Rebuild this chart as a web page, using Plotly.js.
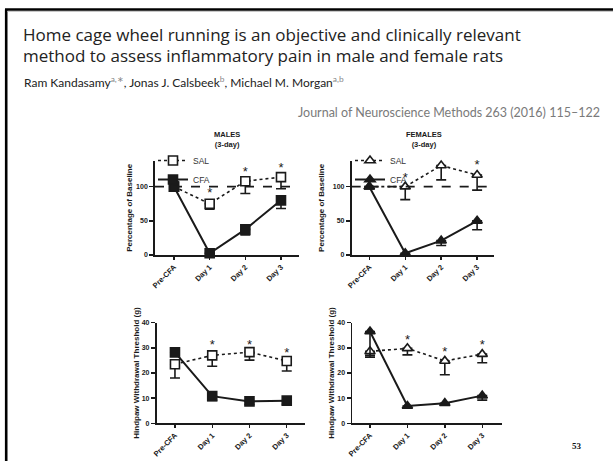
<!DOCTYPE html>
<html><head><meta charset="utf-8">
<script src="https://cdn.plot.ly/plotly-3.0.1.min.js"></script>
<style>html,body{margin:0;padding:0;background:#fff}#chart{width:613px;height:461px}</style>
</head><body><div id="chart"></div>
<script>
// ---------- data ----------
const cats = ['Pre-CFA', 'Day 1', 'Day 2', 'Day 3'];
const starCats = ['Day 1', 'Day 2', 'Day 3'];
const baseline = [100];

// % of baseline (wheel running)
const maleSalPct = [100, 75, 108, 114];
const maleSalPctErr = [0, 8, 18, 17];
const maleCfaPct = [100, 2.5, 37.5, 80];
const maleCfaPctErr = [0, 0, 8, 12];
const femSalPct = [100, 100, 131, 117];
const femSalPctErr = [0, 19, 21, 22];
const femCfaPct = [100, 2.5, 21, 50];
const femCfaPctErr = [0, 0, 7, 13];

// hindpaw withdrawal threshold (g)
const maleSalThr = [23.5, 27, 28.3, 24.8];
const maleSalThrErr = [5.5, 4.3, 3.2, 4];
const maleCfaThr = [28.2, 10.8, 8.7, 9];
const maleCfaThrErr = [0, 1.7, 1.2, 1.4];
const femSalThr = [28.6, 29.8, 24.8, 27.5];
const femSalThrErr = [2.3, 2.6, 5.5, 3.4];
const femCfaThr = [36.5, 6.9, 8, 11];
const femCfaThrErr = [9.5, 0, 0.5, 1.8];

// significance markers (y of the asterisk)
const maleStarPct = [89, 121, 126];
const femStarPct = [111, 143, 130];
const maleStarThr = [31, 31, 27.8];
const femStarThr = [33, 28.2, 30.8];

const yTicksPct = [0, 50, 100];
const yTicksThr = [0, 10, 20, 30, 40];

// ---------- styling helpers ----------
const W = 613, H = 461;
const px = v => v / W;
const py = v => 1 - v / H;
const INK = '#1a1a1a';
const gfont = (s) => ({family: 'Liberation Sans, Arial, sans-serif', size: s, color: INK, weight: 'bold'});

function series(x, y, err, xa, ya, name, symbol, filled, dash, legend, showlegend) {
  return {
    type: 'scatter', mode: 'lines+markers', x: x, y: y, name: name,
    xaxis: xa, yaxis: ya, legend: legend, showlegend: showlegend,
    cliponaxis: false,
    line: {color: INK, width: dash === 'solid' ? 2 : 1.6, dash: dash},
    marker: {symbol: symbol, size: 9, color: filled ? INK : '#ffffff', line: {color: INK, width: 1.6}},
    error_y: {type: 'data', symmetric: false, array: err.map(() => 0), arrayminus: err,
              color: INK, thickness: 1.6, width: 5}
  };
}
function stars(y, xa, ya) {
  return {type: 'scatter', mode: 'text', x: starCats, y: y, text: y.map(() => '*'),
          textposition: 'middle center', textfont: {family: 'Liberation Sans, Arial', size: 13, color: INK},
          xaxis: xa, yaxis: ya, showlegend: false, hoverinfo: 'skip', cliponaxis: false};
}

const traces = [
  series(cats, maleSalPct, maleSalPctErr, 'x', 'y', 'SAL', 'square', false, 'dot', 'legend', true),
  series(cats, maleCfaPct, maleCfaPctErr, 'x', 'y', 'CFA', 'square', true, 'solid', 'legend', true),
  stars(maleStarPct, 'x', 'y'),
  series(cats, femSalPct, femSalPctErr, 'x2', 'y2', 'SAL', 'triangle-up', false, 'dot', 'legend2', true),
  series(cats, femCfaPct, femCfaPctErr, 'x2', 'y2', 'CFA', 'triangle-up', true, 'solid', 'legend2', true),
  stars(femStarPct, 'x2', 'y2'),
  series(cats, maleSalThr, maleSalThrErr, 'x3', 'y3', 'SAL', 'square', false, 'dot', 'legend', false),
  series(cats, maleCfaThr, maleCfaThrErr, 'x3', 'y3', 'CFA', 'square', true, 'solid', 'legend', false),
  stars(maleStarThr, 'x3', 'y3'),
  series(cats, femSalThr, femSalThrErr, 'x4', 'y4', 'SAL', 'triangle-up', false, 'dot', 'legend', false),
  series(cats, femCfaThr, femCfaThrErr, 'x4', 'y4', 'CFA', 'triangle-up', true, 'solid', 'legend', false),
  stars(femStarThr, 'x4', 'y4'),
];

function xax(d0, d1, r0, r1, anchor) {
  return {domain: [px(d0), px(d1)], range: [r0, r1], type: 'category', categoryarray: cats,
          anchor: anchor, showline: true, linewidth: 1.8, linecolor: INK, showgrid: false, zeroline: false,
          ticks: 'outside', ticklen: 3, tickwidth: 1.4, tickcolor: INK, tickangle: -45,
          tickfont: gfont(7.5), fixedrange: true};
}
function yax(d0, d1, r1, tv, anchor, title, standoff) {
  return {domain: [py(d0), py(d1)], range: [0, r1], anchor: anchor, tickvals: tv,
          showline: true, linewidth: 1.8, linecolor: INK, showgrid: false, zeroline: false,
          ticks: 'outside', ticklen: 4, tickwidth: 1.4, tickcolor: INK, tickfont: gfont(7),
          title: {text: title, font: gfont(8), standoff: standoff}, automargin: false, fixedrange: true};
}

const hdrFont = {family: 'Open Sans, Lato, sans-serif', size: 17, color: '#222'};
const legFont = {family: 'Liberation Sans, Arial', size: 8.5, color: '#333'};
const layout = {
  width: W, height: H, margin: {l: 0, r: 0, t: 0, b: 0},
  paper_bgcolor: '#ffffff', plot_bgcolor: 'rgba(0,0,0,0)', showlegend: true,
  xaxis: xax(155, 299, -0.533, 3.505, 'y'),
  yaxis: yax(255, 160.7, 138, yTicksPct, 'x', 'Percentage of Baseline', 2),
  xaxis2: xax(351.7, 494, -0.49, 3.47, 'y2'),
  yaxis2: yax(255, 160.7, 138, yTicksPct, 'x2', 'Percentage of Baseline', 7),
  xaxis3: xax(156.7, 305, -0.49, 3.49, 'y3'),
  yaxis3: yax(423.3, 322.7, 40, yTicksThr, 'x3', 'Hindpaw Withdrawal Threshold (g)', 1),
  xaxis4: xax(352.3, 501.7, -0.473, 3.52, 'y4'),
  yaxis4: yax(423.3, 322.7, 40, yTicksThr, 'x4', 'Hindpaw Withdrawal Threshold (g)', 1),
  legend: {x: px(153), y: py(146), xanchor: 'left', yanchor: 'top', bgcolor: 'rgba(0,0,0,0)',
           font: legFont, tracegroupgap: 0, itemwidth: 30},
  legend2: {x: px(350), y: py(146), xanchor: 'left', yanchor: 'top', bgcolor: 'rgba(0,0,0,0)',
           font: legFont, tracegroupgap: 0, itemwidth: 30},
  shapes: [
    {type: 'line', xref: 'x domain', yref: 'y', x0: 0, x1: 1, y0: baseline[0], y1: baseline[0],
     line: {color: INK, width: 1.6, dash: 'dash'}},
    {type: 'line', xref: 'x2 domain', yref: 'y2', x0: 0, x1: 1, y0: baseline[0], y1: baseline[0],
     line: {color: INK, width: 1.6, dash: 'dash'}},
    {type: 'line', xref: 'paper', yref: 'paper', x0: px(6.2), x1: px(6.2), y0: 0, y1: py(9.5),
     line: {color: '#000', width: 2.6}},
    {type: 'line', xref: 'paper', yref: 'paper', x0: px(5), x1: 1, y0: py(9.5), y1: py(9.5),
     line: {color: '#000', width: 2.6}},
    {type: 'line', xref: 'paper', yref: 'paper', x0: px(7.5), x1: 1, y0: py(11.5), y1: py(11.5),
     line: {color: '#c8c8c8', width: 1}}
  ],
  annotations: [
    {text: 'Home cage wheel running is an objective and clinically relevant', xref: 'paper', yref: 'paper',
     x: px(21), y: py(35), xanchor: 'left', yanchor: 'middle', showarrow: false, font: hdrFont},
    {text: 'method to assess inflammatory pain in male and female rats', xref: 'paper', yref: 'paper',
     x: px(21), y: py(56), xanchor: 'left', yanchor: 'middle', showarrow: false, font: hdrFont},
    {text: 'Ram Kandasamy<span style="color:#888"><sup>a,∗</sup></span>, Jonas J. Calsbeek<span style="color:#888"><sup>b</sup></span>, Michael M. Morgan<span style="color:#888"><sup>a,b</sup></span>',
     xref: 'paper', yref: 'paper', x: px(22), y: py(82), xanchor: 'left', yanchor: 'middle', showarrow: false,
     font: {family: 'Lato, sans-serif', size: 12, color: '#222'}},
    {text: 'Journal of Neuroscience Methods 263 (2016) 115–122', xref: 'paper', yref: 'paper',
     x: px(602), y: py(112), xanchor: 'right', yanchor: 'middle', showarrow: false,
     font: {family: 'Lato, sans-serif', size: 12.5, color: '#7a7a7a'}},
    {text: 'MALES<br>(3-day)', xref: 'paper', yref: 'paper', x: px(226.7), y: py(139.5), xanchor: 'center', yanchor: 'middle',
     showarrow: false, font: gfont(7.5)},
    {text: 'FEMALES<br>(3-day)', xref: 'paper', yref: 'paper', x: px(424.3), y: py(139.5), xanchor: 'center', yanchor: 'middle',
     showarrow: false, font: gfont(7.5)},
    {text: '53', xref: 'paper', yref: 'paper', x: px(577), y: py(446), xanchor: 'center', yanchor: 'middle',
     showarrow: false, font: {family: 'Liberation Serif, serif', size: 9, color: '#111', weight: 'bold'}}
  ]
};

Plotly.newPlot('chart', traces, layout, {staticPlot: true, displayModeBar: false});
</script></body></html>
